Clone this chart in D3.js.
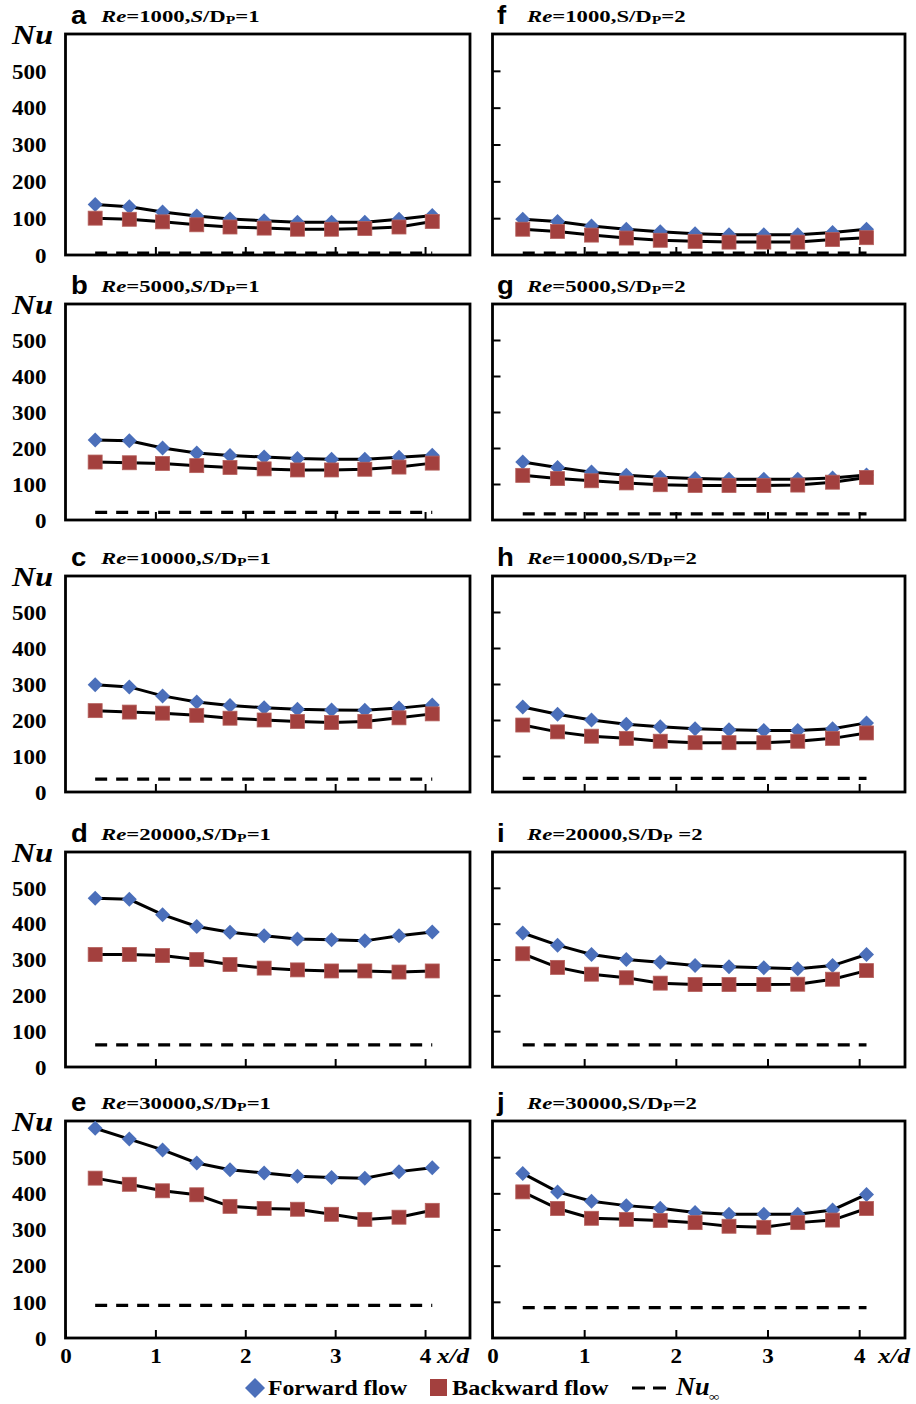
<!DOCTYPE html>
<html>
<head>
<meta charset="UTF-8">
<title>Nu vs x/d</title>
<script src="https://cdn.jsdelivr.net/npm/d3@7"></script>
<style>
  body { margin: 0; background: #fff; }
  svg { display: block; }
</style>
</head>
<body>
<script>
// x/d positions of the measuring points (same in every panel)
var xd = [0.33, 0.71, 1.08, 1.46, 1.83, 2.21, 2.58, 2.96, 3.33, 3.71, 4.08];

// S/Dp = 1 (left column)
var fwdA = [137, 131, 117, 106, 98, 93, 89, 89, 89, 97, 107];
var bwdA = [100, 97, 90, 82, 76, 73, 70, 70, 72, 76, 91];
var fwdB = [222, 220, 200, 186, 179, 175, 171, 169, 169, 174, 180];
var bwdB = [161, 159, 157, 151, 146, 142, 139, 139, 141, 147, 158];
var fwdC = [298, 292, 267, 250, 240, 234, 230, 228, 227, 233, 242];
var bwdC = [226, 222, 219, 213, 205, 200, 196, 193, 196, 206, 217];
var fwdD = [471, 468, 425, 392, 376, 366, 357, 355, 352, 366, 377];
var bwdD = [314, 314, 311, 300, 286, 276, 271, 268, 268, 265, 268];
var fwdE = [580, 550, 520, 484, 465, 456, 447, 444, 442, 460, 471];
var bwdE = [442, 425, 407, 396, 364, 358, 356, 342, 328, 334, 353];

// S/Dp = 2 (right column)
var fwdF = [97, 91, 79, 70, 63, 58, 55, 55, 55, 61, 70];
var bwdF = [70, 64, 54, 46, 40, 37, 35, 35, 35, 42, 47];
var fwdG = [161, 146, 133, 124, 119, 115, 113, 113, 113, 117, 125];
var bwdG = [124, 115, 109, 103, 98, 96, 96, 96, 97, 105, 118];
var fwdH = [236, 216, 200, 188, 181, 176, 173, 171, 171, 176, 192];
var bwdH = [186, 167, 155, 149, 141, 137, 137, 137, 141, 149, 164];
var fwdI = [374, 340, 314, 300, 292, 283, 280, 277, 274, 283, 314];
var bwdI = [316, 278, 259, 249, 234, 230, 230, 230, 231, 245, 269];
var fwdJ = [455, 404, 378, 366, 359, 347, 342, 342, 342, 354, 397];
var bwdJ = [404, 358, 331, 328, 325, 319, 309, 306, 319, 326, 358];

// fully developed Nu (dashed line), panels a..j
var nuInf = [5, 21, 36, 62, 90, 5, 17, 38, 62, 84];

var letters = ["a", "b", "c", "d", "e", "f", "g", "h", "i", "j"];
var reVals = ["1000", "5000", "10000", "20000", "30000"];
var sdVals = ["1", "2"];
var yTicks = [0, 100, 200, 300, 400, 500];
var xTicks = [0, 1, 2, 3, 4];

var fwdAll = [fwdA, fwdB, fwdC, fwdD, fwdE, fwdF, fwdG, fwdH, fwdI, fwdJ];
var bwdAll = [bwdA, bwdB, bwdC, bwdD, bwdE, bwdF, bwdG, bwdH, bwdI, bwdJ];

// layout
var W = 916, H = 1404;
var colL = [65.5, 492.5], colR = [470, 905];
var rowT = [34, 304, 576, 852, 1121], rowB = [255, 520, 792, 1067, 1338];
var blue = "#4b6fba", red = "#a3403e";
var serif = "'Liberation Serif', 'Times New Roman', serif";
var sans = "'Liberation Sans', Arial, sans-serif";

var svg = d3.select("body").append("svg")
  .attr("width", W).attr("height", H);
svg.append("rect").attr("width", W).attr("height", H).attr("fill", "#fff");

// stretched text helper (the original figure is widened horizontally)
function stext(parent, x, y, sx) {
  return parent.append("text")
    .attr("transform", "translate(" + x + "," + y + ") scale(" + sx + ",1)");
}

var diamond = function(r) { return "M0," + (-r) + "L" + r + ",0L0," + r + "L" + (-r) + ",0Z"; };

letters.forEach(function(letter, k) {
  var col = k < 5 ? 0 : 1, row = k % 5;
  var x = d3.scaleLinear().domain([0, 4.5]).range([colL[col], colR[col]]);
  var y = d3.scaleLinear().domain([0, 600]).range([rowB[row], rowT[row]]);
  var g = svg.append("g");

  // y axis
  var ya = g.append("g").attr("transform", "translate(" + colL[col] + ",0)")
    .call(d3.axisLeft(y).tickValues(col === 0 ? yTicks : yTicks.slice(1))
      .tickSize(col === 0 ? 0 : -8).tickFormat(col === 0 ? d3.format("d") : ""));
  ya.select(".domain").remove();
  ya.selectAll(".tick line").attr("stroke", "#000").attr("stroke-width", 2);
  ya.selectAll(".tick text")
    .attr("x", 0).attr("dy", "0.36em")
    .attr("transform", "translate(-19,0) scale(1.15,1)")
    .attr("font-family", serif).attr("font-weight", "bold")
    .attr("font-size", 20).attr("fill", "#000");

  // x axis
  var bottomRow = row === 4;
  var xa = g.append("g").attr("transform", "translate(0," + rowB[row] + ")")
    .call(d3.axisBottom(x).tickValues(bottomRow ? xTicks : xTicks.slice(1))
      .tickSize(-8).tickFormat(bottomRow ? d3.format("d") : ""));
  xa.select(".domain").remove();
  xa.selectAll(".tick line").attr("stroke", "#000").attr("stroke-width", 2);
  xa.selectAll(".tick text")
    .attr("y", 0).attr("dy", 0)
    .attr("transform", "translate(0,25) scale(1.15,1)")
    .attr("font-family", serif).attr("font-weight", "bold")
    .attr("font-size", 20).attr("fill", "#000");

  // frame
  g.append("rect")
    .attr("x", colL[col]).attr("y", rowT[row])
    .attr("width", colR[col] - colL[col]).attr("height", rowB[row] - rowT[row])
    .attr("fill", "none").attr("stroke", "#000").attr("stroke-width", 2.8);

  // Nu label (left column)
  if (col === 0) {
    stext(g, 12, rowT[row] + 10, 1.15).text("Nu")
      .attr("font-family", serif).attr("font-weight", "bold").attr("font-style", "italic")
      .attr("font-size", 28);
  }
  if (bottomRow) {
    stext(g, col === 0 ? 437 : 878, rowB[row] + 25, 1.25).text("x/d")
      .attr("font-family", serif).attr("font-weight", "bold").attr("font-style", "italic")
      .attr("font-size", 20);
  }

  // panel letter and title
  stext(g, col === 0 ? 71 : 497, rowT[row] - 10, 1.1).text(letter)
    .attr("font-family", sans).attr("font-weight", "bold").attr("font-size", 25);
  var t = stext(g, col === 0 ? 101 : 527, rowT[row] - 12, 1.3)
    .attr("font-family", serif).attr("font-weight", "bold").attr("font-size", 17.5);
  t.append("tspan").attr("font-style", "italic").text("Re");
  t.append("tspan").text("=" + reVals[row] + ",");
  t.append("tspan").attr("font-style", col === 0 ? "italic" : "normal").text("S");
  t.append("tspan").text("/D");
  t.append("tspan").attr("font-size", 12).attr("dy", 2).text("P");
  t.append("tspan").attr("dy", -2).text((letter === "i" ? " =" : "=") + sdVals[col]);

  // Nu infinity dashed line
  g.append("path")
    .datum(xd)
    .attr("d", d3.line().x(function(d) { return x(d); }).y(function() { return y(nuInf[k]); }))
    .attr("fill", "none").attr("stroke", "#000").attr("stroke-width", 3.2)
    .attr("stroke-dasharray", "12,9");

  var line = d3.line()
    .x(function(d, i) { return x(xd[i]); })
    .y(function(d) { return y(d); });

  // forward flow
  g.append("path").datum(fwdAll[k]).attr("d", line)
    .attr("fill", "none").attr("stroke", "#000").attr("stroke-width", 3);
  g.selectAll("path.fwd").data(fwdAll[k]).enter().append("path")
    .attr("class", "fwd")
    .attr("d", diamond(7.5))
    .attr("transform", function(d, i) { return "translate(" + x(xd[i]) + "," + y(d) + ")"; })
    .attr("fill", blue);

  // backward flow
  g.append("path").datum(bwdAll[k]).attr("d", line)
    .attr("fill", "none").attr("stroke", "#000").attr("stroke-width", 3);
  g.selectAll("rect.bwd").data(bwdAll[k]).enter().append("rect")
    .attr("class", "bwd")
    .attr("x", function(d, i) { return x(xd[i]) - 7; })
    .attr("y", function(d) { return y(d) - 7; })
    .attr("width", 14).attr("height", 14)
    .attr("fill", red).attr("stroke", "#b5605c").attr("stroke-width", 0.8);
});

// legend
var lg = svg.append("g");
lg.append("path").attr("d", diamond(10)).attr("transform", "translate(255,1388)").attr("fill", blue);
stext(lg, 268, 1395, 1.08).text("Forward flow")
  .attr("font-family", serif).attr("font-weight", "bold").attr("font-size", 22);
lg.append("rect").attr("x", 430).attr("y", 1379).attr("width", 17).attr("height", 17).attr("fill", red);
stext(lg, 452, 1395, 1.1).text("Backward flow")
  .attr("font-family", serif).attr("font-weight", "bold").attr("font-size", 22);
lg.append("line").attr("x1", 632).attr("x2", 666).attr("y1", 1388).attr("y2", 1388)
  .attr("stroke", "#000").attr("stroke-width", 3).attr("stroke-dasharray", "13,8");
stext(lg, 676, 1395, 1.05).text("Nu")
  .attr("font-family", serif).attr("font-weight", "bold").attr("font-style", "italic").attr("font-size", 25);
stext(lg, 709, 1401, 1.1).text("∞")
  .attr("font-family", serif).attr("font-weight", "bold").attr("font-size", 13);
</script>
</body>
</html>
